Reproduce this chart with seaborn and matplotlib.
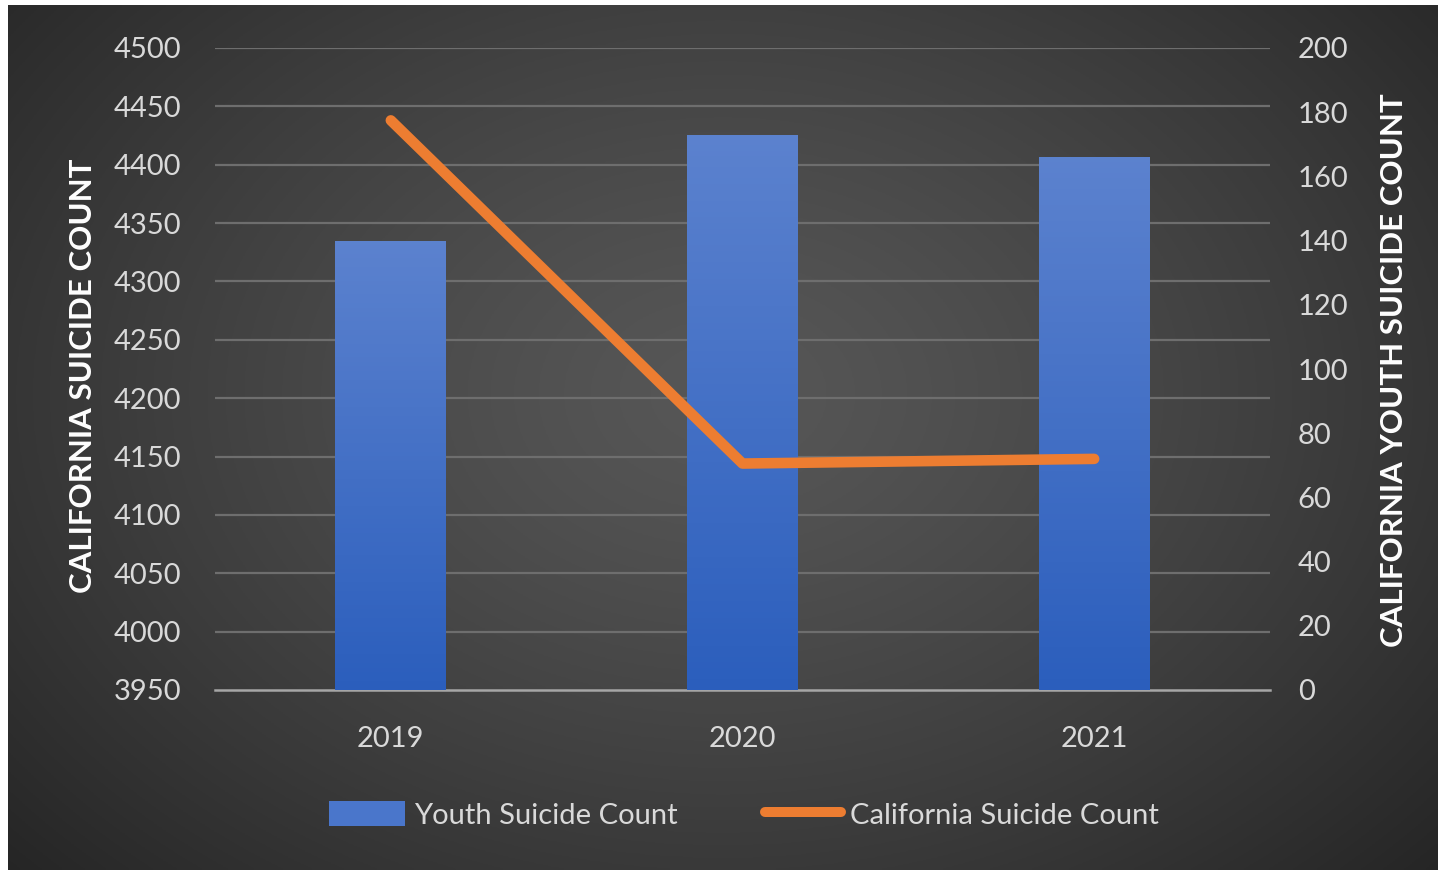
import numpy as np
import pandas as pd
import matplotlib
matplotlib.use("Agg")
import matplotlib.pyplot as plt
from matplotlib.ticker import FixedLocator, MultipleLocator
from matplotlib.patches import Patch
from matplotlib.lines import Line2D
import seaborn as sns

years = ["2019", "2020", "2021"]
youth_counts = [140, 173, 166]
california_counts = [4438, 4144, 4148]

sns.set_theme(style="white")
plt.rcParams["font.family"] = ["Lato", "DejaVu Sans"]

W, H = 1443, 875
fig = plt.figure(figsize=(W / 100, H / 100), dpi=100, facecolor="white")

# background with radial gradient
bg = fig.add_axes([8 / W, 5 / H, (W - 13) / W, (H - 10) / H])
bg.set_axis_off()
yy, xx = np.mgrid[0:1:300j, 0:1:500j]
r = np.sqrt(((xx - 0.5) / 0.75) ** 2 + ((yy - 0.45) / 0.9) ** 2)
r = np.clip(r, 0, 1)
c0, c1 = 0.34, 0.12
grad = c0 + (c1 - c0) * r ** 1.3
bg.imshow(np.dstack([grad, grad, grad]), aspect="auto", extent=[0, 1, 0, 1])
bg.set_xlim(0, 1)
bg.set_ylim(0, 1)

df = pd.DataFrame({"year": years, "youth": youth_counts, "ca": california_counts})

ax = fig.add_axes([215 / W, (H - 690) / H, (1270 - 215) / W, (690 - 48) / H])
ax.patch.set_visible(False)
sns.barplot(data=df, x="year", y="youth", ax=ax, color="#4a76cb", width=0.315,
            saturation=1, zorder=2, edgecolor="none", linewidth=0)
ax.set_ylim(0, 200)
ax.set_xlim(-0.5, 2.5)
# gradient fill on bars
for p in ax.patches:
    x0, y0 = p.get_x(), p.get_y()
    w, h = p.get_width(), p.get_height()
    g = np.linspace(0, 1, 100)[:, None]
    top = np.array([0.36, 0.51, 0.81])
    bot = np.array([0.17, 0.37, 0.74])
    img = bot[None, None, :] + (top - bot)[None, None, :] * g[:, :, None]
    img = np.repeat(img, 2, axis=1)
    im = ax.imshow(img, extent=[x0, x0 + w, y0, y0 + h], origin="lower",
                   aspect="auto", zorder=3)
    im.set_clip_path(p)
ax.set_xlim(-0.5, 2.5)
ax.set_ylim(0, 200)

ax2 = ax.twinx()
ax2.patch.set_visible(False)
sns.lineplot(data=df, x="year", y="ca", ax=ax2, color="#ed7d31", linewidth=7.6,
             solid_capstyle="round", solid_joinstyle="round", sort=False)
ax2.set_ylim(3950, 4500)
ax2.set_xlim(-0.5, 2.5)

# bars axis: ticks on the right
ax.yaxis.tick_right()
ax.yaxis.set_label_position("right")
ax.yaxis.set_major_locator(MultipleLocator(20))
ax.yaxis.set_minor_locator(FixedLocator(np.linspace(0, 200, 12)[1:]))
ax.yaxis.remove_overlapping_locs = False
ax.grid(which="minor", axis="y", color="#6e6e6e", linewidth=1.6, zorder=1)
ax.grid(which="major", axis="y", visible=False)
ax.set_axisbelow(True)
ax.tick_params(axis="y", which="both", length=0, labelsize=21, colors="#d9d9d9",
               pad=20, left=False, labelleft=False, right=True, labelright=True)
ax.tick_params(axis="x", length=0, labelsize=21, colors="#d9d9d9", pad=26)
for s in ["top", "left", "right"]:
    ax.spines[s].set_visible(False)
ax.spines["bottom"].set_color("#a6a6a6")
ax.spines["bottom"].set_linewidth(1.8)
ax.set_xlabel("")
ax.set_ylabel("CALIFORNIA YOUTH SUICIDE COUNT", fontsize=22.5, fontweight="bold",
              color="white")
ax.yaxis.set_label_coords(1.104, 0.498)

# line axis: ticks on the left
ax2.yaxis.tick_left()
ax2.yaxis.set_label_position("left")
ax2.yaxis.set_major_locator(MultipleLocator(50))
ax2.tick_params(axis="y", length=0, labelsize=21, colors="#d9d9d9", pad=24,
                left=True, labelleft=True, right=False, labelright=False)
for s in ["top", "left", "right", "bottom"]:
    ax2.spines[s].set_visible(False)
ax2.set_xlabel("")
ax2.set_ylabel("CALIFORNIA SUICIDE COUNT", fontsize=22.5, fontweight="bold",
               color="white")
ax2.yaxis.set_label_coords(-0.112, 0.49)

handles = [Patch(facecolor="#4a76cb", edgecolor="none"),
           Line2D([0], [0], color="#ed7d31", linewidth=7.2, solid_capstyle="round")]
fig.legend(handles, ["Youth Suicide Count", "California Suicide Count"],
           loc="center", bbox_to_anchor=(744 / W, 1 - 815 / H), ncol=2,
           frameon=False, fontsize=21, labelcolor="#d9d9d9", handlelength=2.6,
           handleheight=0.9, handletextpad=0.3, columnspacing=3.0)

fig.savefig("out.png", dpi=100, facecolor="white")
